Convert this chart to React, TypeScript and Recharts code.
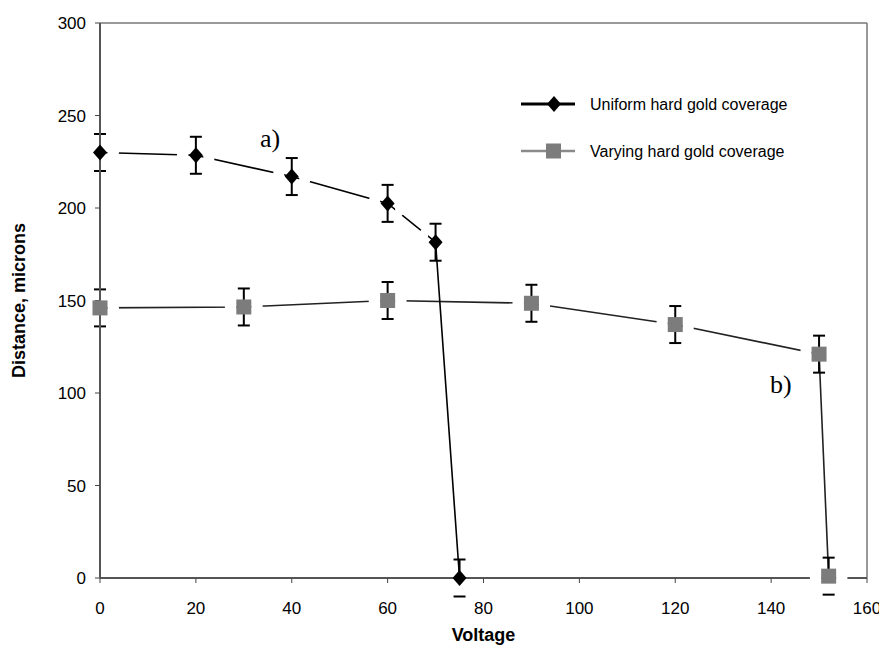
import React from 'react';
import { LineChart, Line, XAxis, YAxis, ErrorBar, ReferenceLine, ReferenceDot } from 'recharts';

// ---- data ----
const uniformVoltage = [0, 20, 40, 60, 70, 75];
const uniformDistance = [230, 228.5, 217, 202.5, 181.5, 0];
const uniformError = [10, 10, 10, 10, 10, 10];

const varyingVoltage = [0, 30, 60, 90, 120, 150, 152];
const varyingDistance = [146, 146.5, 150, 148.5, 137, 121, 1];
const varyingError = [10, 10, 10, 10, 10, 10, 10];

const xTicks = [0, 20, 40, 60, 80, 100, 120, 140, 160];
const yTicks = [0, 50, 100, 150, 200, 250, 300];

const seriesNames = ['Uniform hard gold coverage', 'Varying hard gold coverage'];
const annotations = [
  { text: 'a)', v: 35.5, d: 238 },
  { text: 'b)', v: 142, d: 105 },
];

// whisker below the axis is hidden in the original, only its cap shows
const build = (vs: number[], ds: number[], es: number[]) =>
  vs.map((v, i) => ({ v, d: ds[i], err: [Math.min(es[i], ds[i]), es[i]] }));

const uniformData = build(uniformVoltage, uniformDistance, uniformError);
const varyingData = build(varyingVoltage, varyingDistance, varyingError);

const hiddenCaps = [
  ...uniformVoltage.map((v, i) => ({ v, y: uniformDistance[i] - uniformError[i] })),
  ...varyingVoltage.map((v, i) => ({ v, y: varyingDistance[i] - varyingError[i] })),
].filter((c) => c.y < 0);

const FONT = '"Liberation Sans", Arial, sans-serif';

// white gap around markers (two side lobes), leaving the error-bar column untouched
const Halo = (props: any) => {
  const { cx, cy, index, payload } = props;
  if (payload.d <= 0 || cx == null) return <g key={`h${index}`} />;
  const r = 19;
  const s = 7.5;
  const h = Math.sqrt(r * r - s * s);
  const d =
    `M ${cx - s} ${cy - h} A ${r} ${r} 0 0 0 ${cx - s} ${cy + h} Z ` +
    `M ${cx + s} ${cy - h} A ${r} ${r} 0 0 1 ${cx + s} ${cy + h} Z`;
  return <path key={`h${index}`} d={d} fill="#ffffff" />;
};

const Diamond = (props: any) => {
  const { cx, cy, index } = props;
  return (
    <polygon
      key={`dm${index}`}
      points={`${cx},${cy - 8} ${cx + 7},${cy} ${cx},${cy + 8} ${cx - 7},${cy}`}
      fill="#000"
    />
  );
};

const Square = (props: any) => {
  const { cx, cy, index } = props;
  return <rect key={`sq${index}`} x={cx - 7.5} y={cy - 7.5} width={15} height={15} fill="#7c7c7c" />;
};

const LegendBox = () => (
  <svg width={320} height={80} style={{ overflow: 'visible', display: 'block' }}>
    <line x1={8} x2={62} y1={16} y2={16} stroke="#000" strokeWidth={3} />
    <polygon points="41,8 48,16 41,24 34,16" fill="#000" />
    <text x={77} y={16} dominantBaseline="central" fontFamily={FONT} fontSize={16} fill="#000">
      {seriesNames[0]}
    </text>
    <line x1={8} x2={62} y1={63} y2={63} stroke="#8a8a8a" strokeWidth={2.5} />
    <rect x={33} y={55.5} width={15} height={15} fill="#7c7c7c" />
    <text x={77} y={63} dominantBaseline="central" fontFamily={FONT} fontSize={16} fill="#000">
      {seriesNames[1]}
    </text>
  </svg>
);

export default function App() {
  return (
    <div style={{ position: 'relative', width: 879, height: 648 }}>
      <LineChart width={879} height={648} margin={{ top: 15, right: 20, bottom: 48, left: 9 }}>
        <XAxis
          dataKey="v"
          type="number"
          domain={[0, 160]}
          ticks={xTicks}
          height={30}
          tickSize={5}
          tickMargin={19}
          axisLine={{ stroke: '#555', strokeWidth: 2 }}
          tickLine={{ stroke: '#444' }}
          tick={{ fill: '#000', fontSize: 17, fontFamily: FONT }}
          label={{ value: 'Voltage', position: 'bottom', offset: 20, fontSize: 18, fontWeight: 'bold', fontFamily: FONT, fill: '#000' }}
        />
        <YAxis
          dataKey="d"
          type="number"
          domain={[0, 300]}
          ticks={yTicks}
          width={83}
          tickSize={5}
          tickMargin={9}
          axisLine={{ stroke: '#555', strokeWidth: 2 }}
          tickLine={{ stroke: '#444' }}
          tick={{ fill: '#000', fontSize: 17, fontFamily: FONT }}
          label={{
            value: 'Distance, microns',
            angle: -90,
            position: 'insideLeft',
            offset: 2,
            fontSize: 18,
            fontWeight: 'bold',
            fontFamily: FONT,
            fill: '#000',
            style: { textAnchor: 'middle' },
          }}
        />
        <ReferenceLine y={300} stroke="#777" strokeWidth={1.5} />
        <ReferenceLine x={160} stroke="#777" strokeWidth={1.5} />

        {/* curves with white gaps around markers */}
        <Line data={varyingData} dataKey="d" stroke="#222" strokeWidth={1.6} dot={Halo} activeDot={false} legendType="none" isAnimationActive={false} />
        <Line data={uniformData} dataKey="d" stroke="#000" strokeWidth={1.6} dot={Halo} activeDot={false} legendType="none" isAnimationActive={false} />

        {/* markers with error bars */}
        <Line data={varyingData} dataKey="d" stroke="none" dot={Square} activeDot={false} legendType="none" isAnimationActive={false}>
          <ErrorBar dataKey="err" width={6} strokeWidth={2} stroke="#000" direction="y" />
        </Line>
        <Line data={uniformData} dataKey="d" stroke="none" dot={Diamond} activeDot={false} legendType="none" isAnimationActive={false}>
          <ErrorBar dataKey="err" width={6} strokeWidth={2} stroke="#000" direction="y" />
        </Line>

        {hiddenCaps.map((c, i) => (
          <ReferenceLine
            key={`cap${i}`}
            segment={[{ x: c.v - 1.25, y: c.y }, { x: c.v + 1.25, y: c.y }]}
            stroke="#000"
            strokeWidth={2}
            ifOverflow="visible"
          />
        ))}

        {annotations.map((a, i) => (
          <ReferenceDot
            key={`an${i}`}
            x={a.v}
            y={a.d}
            r={1}
            fill="none"
            stroke="none"
            label={{ value: a.text, position: 'center', fontSize: 26, fontFamily: '"Liberation Serif", "Times New Roman", serif', fill: '#000' }}
          />
        ))}
      </LineChart>
      <div style={{ position: 'absolute', left: 505, top: 80, width: 320, height: 80 }}>
        <LegendBox />
      </div>
    </div>
  );
}
